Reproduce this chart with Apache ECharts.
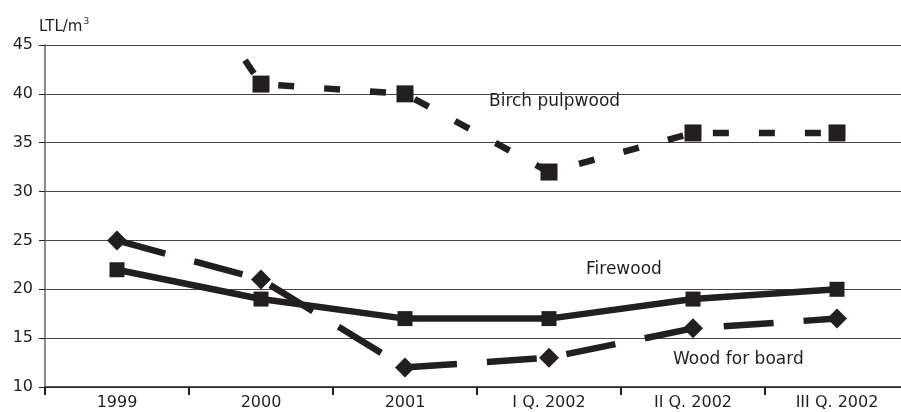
<!DOCTYPE html>
<html><head><meta charset="utf-8">
<script src="https://cdn.jsdelivr.net/npm/echarts@6/dist/echarts.min.js"></script>
<style>html,body{margin:0;padding:0;background:#fff;overflow:hidden;width:901px;height:412px}#c{width:909px;height:412px}</style>
</head><body><div id="c"></div>
<script>
const categories = ['1999', '2000', '2001', 'I Q. 2002', 'II Q. 2002', 'III Q. 2002'];
const birchPulpwood = [63, 41, 40, 32, 36, 36];
const firewood = [22, 19, 17, 17, 19, 20];
const woodForBoard = [25, 21, 12, 13, 16, 17];
const yTicks = [10, 15, 20, 25, 30, 35, 40, 45];

const ink = '#231f20';
const font = 'DejaVu Sans';
const chart = echarts.init(document.getElementById('c'), null, {renderer: 'canvas'});
chart.setOption({
  animation: false,
  backgroundColor: '#fff',
  grid: {left: 45, top: 45, bottom: 25, right: 0, containLabel: false},
  xAxis: {
    type: 'category', data: categories, boundaryGap: true,
    axisLine: {lineStyle: {color: ink, width: 1.5}},
    axisTick: {show: true, length: 8, inside: false, lineStyle: {color: ink, width: 2}},
    axisLabel: {color: ink, fontFamily: font, fontSize: 16, margin: 8},
    splitLine: {show: false}
  },
  yAxis: {
    type: 'value', min: yTicks[0], max: yTicks[yTicks.length - 1], interval: 5,
    axisLine: {show: true, lineStyle: {color: '#666', width: 1.5}},
    axisTick: {show: true, length: 6, lineStyle: {color: ink, width: 1}},
    axisLabel: {color: ink, fontFamily: font, fontSize: 16, margin: 12},
    splitLine: {show: true, lineStyle: {color: '#444', width: 1}}
  },
  series: [
    {
      name: 'Birch pulpwood', type: 'line', data: birchPulpwood, clip: true,
      symbol: 'rect', symbolSize: 17, showAllSymbol: true,
      lineStyle: {color: ink, width: 6.5, type: [16, 30]},
      itemStyle: {color: ink}
    },
    {
      name: 'Firewood', type: 'line', data: firewood,
      symbol: 'rect', symbolSize: 15,
      lineStyle: {color: ink, width: 6.5, type: 'solid'},
      itemStyle: {color: ink}
    },
    {
      name: 'Wood for board', type: 'line', data: woodForBoard,
      symbol: 'diamond', symbolSize: [20, 20],
      lineStyle: {color: ink, width: 6.5, type: [50, 30]},
      itemStyle: {color: ink}
    }
  ],
  graphic: [
    {type: 'text', left: 39, top: 17, style: {
      text: '{a|LTL/m}{s|3}', fill: ink,
      rich: {a: {fontFamily: font, fontSize: 15, fill: ink}, s: {fontFamily: font, fontSize: 9, fill: ink, verticalAlign: 'top', padding: [0, 0, 12, 1]}}
    }},
    {type: 'text', left: 489, top: 93, style: {text: 'Birch pulpwood', fill: ink, font: '17px "DejaVu Sans"'}},
    {type: 'text', left: 586, top: 261, style: {text: 'Firewood', fill: ink, font: '17px "DejaVu Sans"'}},
    {type: 'text', left: 673, top: 351, style: {text: 'Wood for board', fill: ink, font: '17px "DejaVu Sans"'}}
  ]
});
</script></body></html>
